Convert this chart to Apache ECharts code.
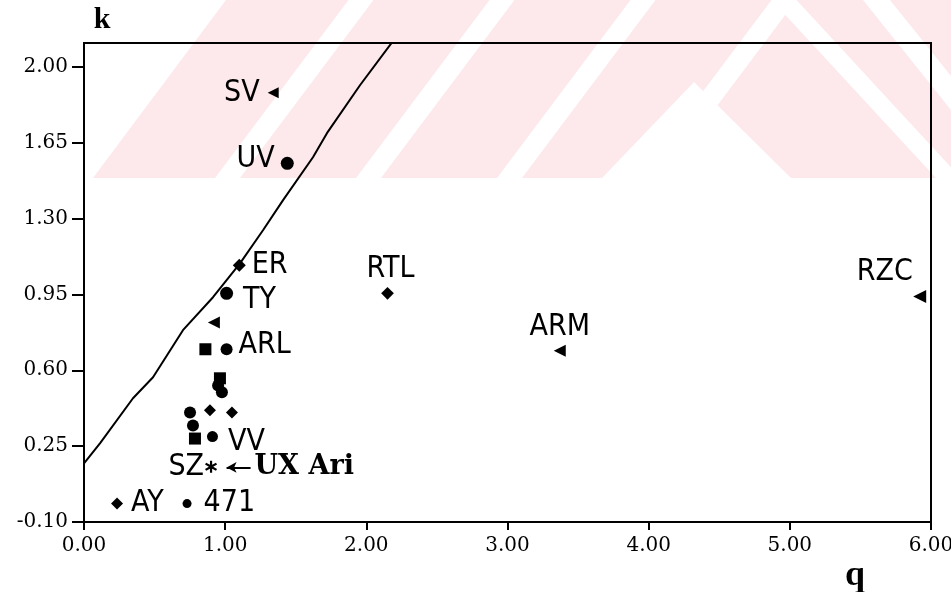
<!DOCTYPE html>
<html>
<head>
<meta charset="utf-8">
<script src="https://cdn.jsdelivr.net/npm/echarts@6/dist/echarts.min.js"></script>
<style>
  html, body { margin: 0; padding: 0; background: #fff; }
  #chart { width: 951px; height: 592px; }
</style>
</head>
<body>
<div id="chart"></div>
<script>
// Labelled stars: mass ratio q and k value
const starNames  = ['SV', 'UV', 'ER', 'TY', 'ARL', 'RTL', 'ARM', 'RZC', 'VV', 'SZ', 'AY', '471'];
const starQ      = [1.34, 1.44, 1.10, 1.01, 1.01, 2.15, 3.37, 5.92, 0.91, 0.90, 0.234, 0.73];
const starK      = [1.88, 1.555, 1.085, 0.955, 0.697, 0.955, 0.69, 0.94, 0.294, 0.155, -0.015, -0.015];

// Unlabelled systems in the crowded region around q ~ 1
const otherQ = [0.92, 0.86, 0.963, 0.95, 0.977, 0.751, 0.892, 1.048, 0.772, 0.786];
const otherK = [0.82, 0.697, 0.563, 0.53, 0.499, 0.405, 0.416, 0.405, 0.345, 0.285];

// UX Ari, pointed to by an arrow
const uxName = 'UX Ari';
const uxQ = 1.01;
const uxK = 0.152;

// Boundary curve
const lineQ = [0.00, 0.113, 0.347, 0.489, 0.701, 0.914, 1.105, 1.268, 1.409, 1.622, 1.721, 1.955, 2.19];
const lineK = [0.171, 0.263, 0.471, 0.568, 0.785, 0.937, 1.093, 1.246, 1.384, 1.583, 1.694, 1.915, 2.12];

// Axis ticks
const yTicks = [-0.10, 0.25, 0.60, 0.95, 1.30, 1.65, 2.00];
const xTicks = [0, 1, 2, 3, 4, 5, 6];

const labelFont = "'DejaVu Sans Condensed', 'Liberation Sans Narrow', 'DejaVu Sans', sans-serif";
const tickFont = "'DejaVu Serif', 'Liberation Serif', serif";
const nameFont = "'Liberation Serif', 'DejaVu Serif', serif";

// per-star marker shape and label placement
const starStyle = {
  'SV':  { symbol: 'triangle', rotate: 90, size: 11, position: 'left', offset: [-2, 0] },
  'UV':  { symbol: 'circle', rotate: 0, size: 13, position: 'left', offset: [0, -4] },
  'ER':  { symbol: 'diamond', rotate: 0, size: 13, position: 'right', offset: [0, 0] },
  'TY':  { symbol: 'circle', rotate: 0, size: 13, position: 'right', offset: [4, 7] },
  'ARL': { symbol: 'circle', rotate: 0, size: 12, position: 'right', offset: [0, -4] },
  'RTL': { symbol: 'rect', rotate: 45, size: 9, position: 'top', offset: [3, 3] },
  'ARM': { symbol: 'triangle', rotate: 90, size: 12, position: 'top', offset: [0, 3] },
  'RZC': { symbol: 'triangle', rotate: 90, size: 13, position: 'top', offset: [-35, 3] },
  'VV':  { symbol: 'circle', rotate: 0, size: 11, position: 'right', offset: [4, 6] },
  'SZ':  { symbol: 'path://M5 0 L7 0 L7 4 L10.5 2 L11.5 3.7 L8 6 L11.5 8.3 L10.5 10 L7 8 L7 12 L5 12 L5 8 L1.5 10 L0.5 8.3 L4 6 L0.5 3.7 L1.5 2 L5 4 Z', rotate: 0, size: 12, position: 'left', offset: [5, 0] },
  'AY':  { symbol: 'diamond', rotate: 0, size: 12, position: 'right', offset: [2, 0] },
  '471': { symbol: 'circle', rotate: 0, size: 9, position: 'right', offset: [6, 0] }
};

const starData = starNames.map((n, i) => {
  const s = starStyle[n];
  return {
    name: n,
    value: [starQ[i], starK[i]],
    symbol: s.symbol,
    symbolSize: s.size,
    symbolRotate: s.rotate,
    label: { position: s.position, offset: s.offset }
  };
});

const otherSymbols = ['triangle', 'rect', 'rect', 'circle', 'circle', 'circle', 'diamond', 'diamond', 'circle', 'rect'];
const otherData = otherQ.map((q, i) => ({
  value: [q, otherK[i]],
  symbol: otherSymbols[i],
  symbolSize: 12,
  symbolRotate: otherSymbols[i] === 'triangle' ? 90 : 0
}));

// faint striped emblem behind the top of the plot
const pink = '#fde8ec';
const emblemGaps = [215, 356, 497, 638];
const emblem = [];
emblem.push({ type: 'polygon', shape: { points: [[93, 178], [226, 0], [951, 0], [951, 178]] }, style: { fill: pink } });
emblemGaps.forEach(b => {
  emblem.push({ type: 'polygon', shape: { points: [[b, 178], [b + 25, 178], [b + 158.5, 0], [b + 133.5, 0]] }, style: { fill: '#fff' } });
});
emblem.push({ type: 'polygon', shape: { points: [[771.5, 0], [796.5, 0], [961, 178], [936, 178]] }, style: { fill: '#fff' } });
emblem.push({ type: 'polygon', shape: { points: [[602, 178], [694, 82], [791, 178]] }, style: { fill: '#fff' } });
emblem.push({ type: 'polygon', shape: { points: [[863, 0], [890, 0], [951, 76], [951, 110]] }, style: { fill: '#fff' } });
emblem.forEach(e => { e.z = -10; e.silent = true; });

const chart = echarts.init(document.getElementById('chart'), null, { renderer: 'canvas' });
chart.setOption({
  backgroundColor: '#fff',
  animation: false,
  graphic: { elements: emblem },
  grid: {
    left: 84, right: 20, top: 43, bottom: 70,
    outerBoundsMode: 'none', containLabel: false,
    show: true, borderColor: '#000', borderWidth: 2, backgroundColor: 'transparent'
  },
  xAxis: {
    type: 'value', min: 0, max: 6, interval: 1,
    name: 'q', nameLocation: 'end', nameGap: -76,
    nameTextStyle: { fontFamily: nameFont, fontWeight: 'bold', fontSize: 36, color: '#000', align: 'center', verticalAlign: 'top', padding: [36, 0, 0, 0] },
    axisLine: { show: true, onZero: false, lineStyle: { color: '#000', width: 2 } },
    axisTick: { show: true, length: 8, lineStyle: { color: '#000', width: 2 } },
    axisLabel: { margin: 14, fontFamily: tickFont, fontSize: 20, color: '#000', formatter: v => v.toFixed(2), customValues: xTicks, hideOverlap: false },
    splitLine: { show: false }
  },
  yAxis: {
    type: 'value', min: -0.10, max: 2.11,
    name: 'k', nameLocation: 'end', nameGap: 8,
    nameTextStyle: { fontFamily: nameFont, fontWeight: 'bold', fontSize: 30, color: '#000', align: 'center', padding: [0, 0, 0, 36] },
    axisLine: { show: true, onZero: false, lineStyle: { color: '#000', width: 2 } },
    axisTick: { show: true, length: 12, lineStyle: { color: '#000', width: 2 }, customValues: yTicks },
    axisLabel: { margin: 16, fontFamily: tickFont, fontSize: 20, color: '#000', formatter: v => v.toFixed(2), customValues: yTicks, hideOverlap: false },
    splitLine: { show: false }
  },
  series: [
    {
      name: 'boundary',
      type: 'line',
      data: lineQ.map((q, i) => [q, lineK[i]]),
      showSymbol: false,
      smooth: false,
      clip: true,
      lineStyle: { color: '#000', width: 2 },
      z: 1
    },
    {
      name: 'stars',
      type: 'scatter',
      data: starData,
      itemStyle: { color: '#000', opacity: 1 },
      label: {
        show: true,
        formatter: p => p.name,
        fontFamily: labelFont,
        fontSize: 30,
        color: '#000',
        distance: 6
      },
      z: 3
    },
    {
      name: 'others',
      type: 'scatter',
      data: otherData,
      itemStyle: { color: '#000', opacity: 1 },
      z: 3
    },
    {
      name: uxName,
      type: 'scatter',
      data: [{ name: uxName, value: [uxQ, uxK] }],
      symbolSize: 0,
      itemStyle: { color: '#000', opacity: 1 },
      markLine: {
        silent: true,
        symbol: ['arrow', 'none'],
        symbolSize: [8, 10],
        lineStyle: { color: '#000', width: 2, type: 'solid' },
        label: {
          show: true, position: 'end', formatter: uxName, distance: 4,
          fontFamily: "'DejaVu Serif', serif", fontWeight: 'bold', fontSize: 27, color: '#000'
        },
        data: [[{ coord: [uxQ, uxK] }, { coord: [uxQ + 0.17, uxK] }]]
      }
    }
  ]
});
</script>
</body>
</html>
